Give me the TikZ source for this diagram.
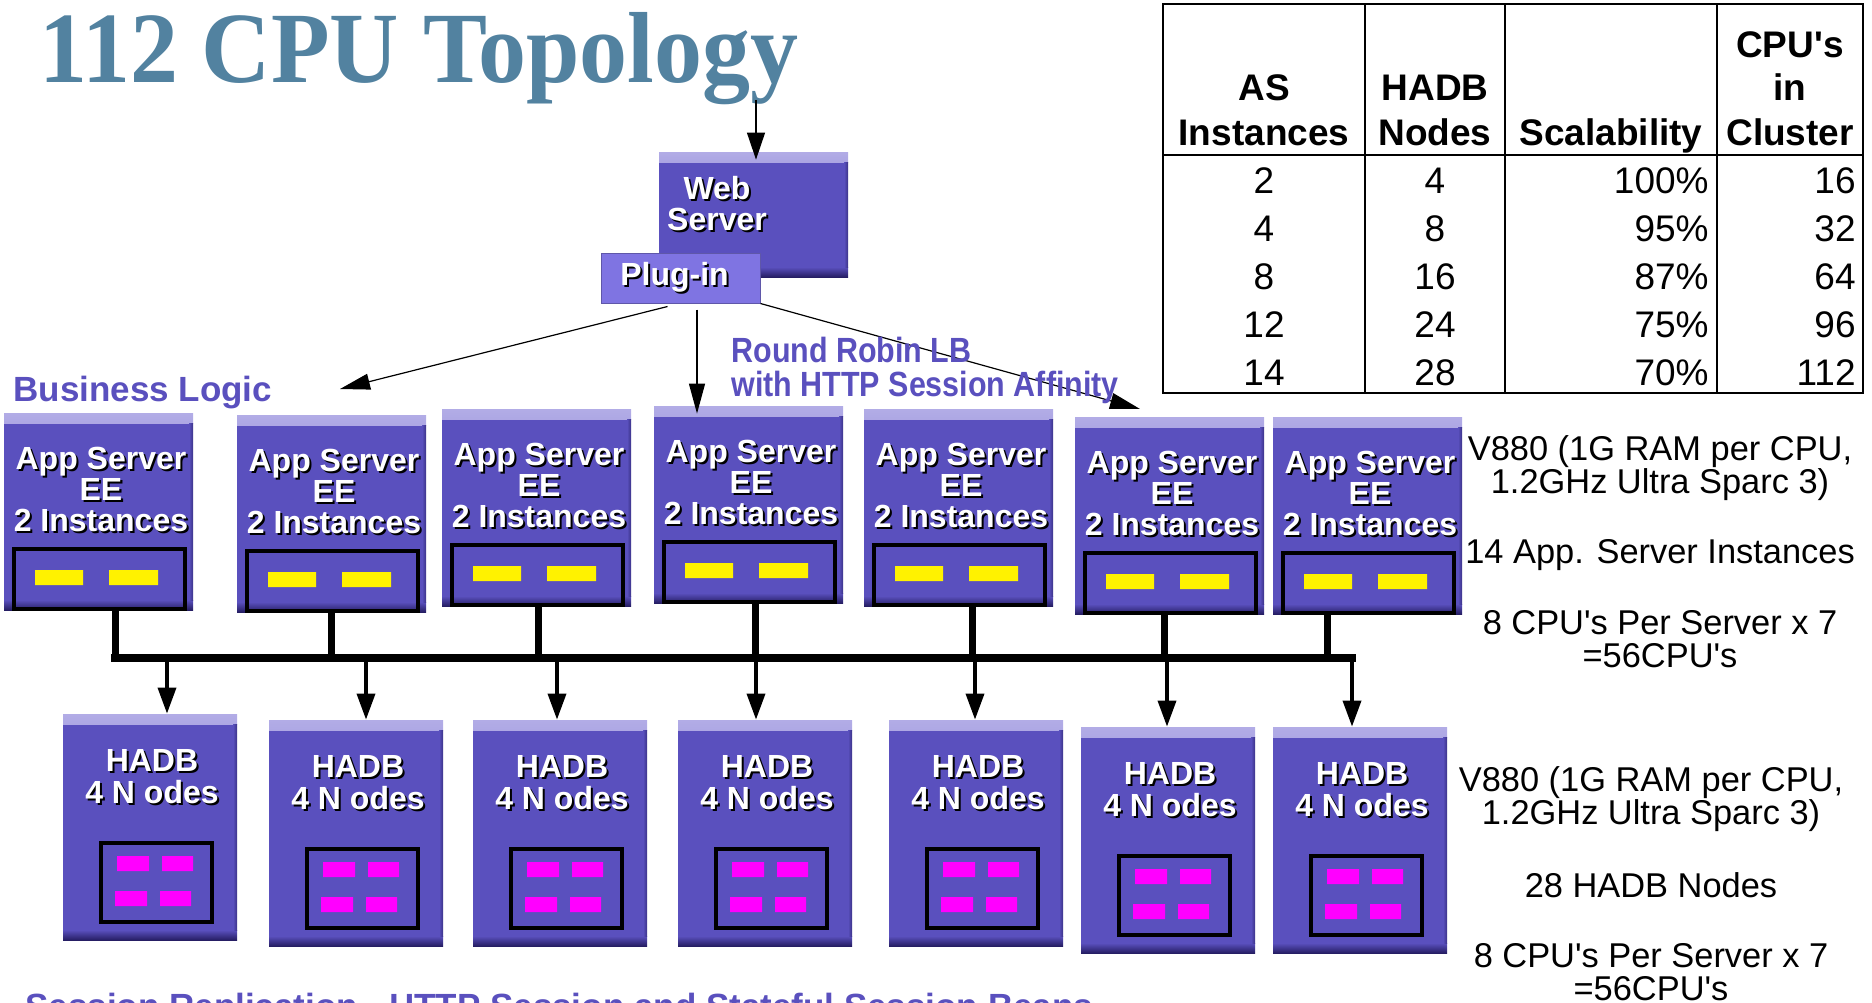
\documentclass[tikz,border=0pt]{standalone}
\usepackage{fontspec}
\newfontfamily\arial{Liberation Sans}
\newfontfamily\arialn[FakeStretch=0.87]{Liberation Sans}
\newfontfamily\timesb[FakeStretch=0.95]{Liberation Serif}
\usetikzlibrary{arrows.meta,calc,positioning}

\definecolor{boxpurple}{RGB}{90,80,190}
\definecolor{boxlight}{RGB}{178,172,230}
\definecolor{boxdark}{RGB}{38,30,100}
\definecolor{plugpurple}{RGB}{127,116,226}
\definecolor{titleblue}{RGB}{82,130,160}
\definecolor{slotmag}{RGB}{255,0,255}

% white label with a dark drop shadow
\newcommand\shtext[1]{\rlap{\kern1pt\raisebox{-1pt}{\color{black}#1}}#1}

\tikzset{
  server/.style={rectangle,fill=boxpurple,inner sep=0pt,
    path picture={
      \fill[top color=boxlight,bottom color=boxpurple]
        (path picture bounding box.north west) rectangle
        ([yshift=-5pt]path picture bounding box.north east);
      \fill[top color=boxpurple,bottom color=boxdark]
        ([yshift=5pt]path picture bounding box.south west) rectangle
        (path picture bounding box.south east);
      \fill[left color=boxpurple,right color=boxdark!60!boxpurple]
        ([xshift=-2pt,yshift=-5pt]path picture bounding box.north east) rectangle
        ([yshift=5pt]path picture bounding box.south east);
    }},
  asbox/.style={server,minimum width=94.5pt,minimum height=98.5pt},
  dbbox/.style={server,minimum width=87pt,minimum height=113pt},
  plugin/.style={rectangle,fill=plugpurple,draw=plugpurple!75!black,line width=0.5pt,
    minimum width=79.5pt,minimum height=25pt,inner sep=0pt,text=white,
    font=\arial\bfseries\fontsize{16}{15.5}\selectfont},
  lbl/.style={inner sep=0pt,align=center,text=white,anchor=base,
    font=\arial\bfseries\fontsize{16}{15.5}\selectfont},
  dblbl/.style={lbl,font=\arial\bfseries\fontsize{16}{16}\selectfont},
  bluelbl/.style={inner sep=0pt,text=boxpurple,anchor=base west,
    font=\arial\bfseries\fontsize{17.5}{17}\selectfont},
  lblabel/.style={bluelbl,align=left,font=\arialn\bfseries\fontsize{17.5}{17}\selectfont},
  note/.style={inner sep=0pt,align=center,anchor=base,
    font=\arial\fontsize{17.2}{16.3}\selectfont},
  th/.style={inner sep=0pt,anchor=base,font=\arial\bfseries\fontsize{18.5}{18}\selectfont},
  td/.style={inner sep=0pt,font=\arial\fontsize{18.5}{18}\selectfont},
  slot/.style={draw=black,line width=1.7pt},
  bus/.style={line width=4pt},
  drop/.style={line width=3.5pt},
  thinarrow/.style={line width=0.6pt,-{Triangle[length=13.5pt,width=9pt]}},
  lbarrow/.style={line width=0.6pt,-{Triangle[length=15pt,width=8pt]}},
  dbarrow/.style={line width=1.8pt,-{Triangle[length=13pt,width=9pt]}},
  tbl/.style={line width=0.6pt}
}

\begin{document}
\begin{tikzpicture}[x=0.5pt,y=-0.5pt]
  \useasboundingbox (0,0) rectangle (1872,1002);
  \clip (0,0) rectangle (1872,1002);

  % title
  \node[inner sep=0pt,anchor=base west,text=titleblue,
    font=\timesb\bfseries\fontsize{50.5}{50}\selectfont] (title) at (39,82) {112 CPU Topology};

  % web tier
  \node[server,minimum width=94.5pt,minimum height=62.5pt] (web) at (753.5,214.5) {};
  \node[lbl] (weblbl) at (717,230) {\shtext{Web}\\\shtext{Server}};
  \node[plugin] (plug) at (680.5,278) {\shtext{Plug-in}\kern6pt};
  \coordinate (feed) at (756,100);
  \draw[thinarrow] (feed) -- ([yshift=-4pt]feed |- web.north);

  % application servers
  \foreach \i/\l/\t/\d in {1/4/413/111,2/237/415/94,3/442/409/96,4/654/406/101,
      5/864/409/108,6/1075/417/89,7/1273/417/54}{
    \node[asbox] (as\i) at (\l+94.5,\t+98.5) {};
    \node[lbl] (aslbl\i) at (\l+97,\t+118) {\shtext{App Server}\\\shtext{EE}\\\shtext{2 Instances}};
    \draw[slot] (\l+10,\t+136) rectangle (\l+181,\t+196);
    \fill[yellow] (\l+31,\t+157) rectangle (\l+79,\t+172)
                  (\l+105,\t+157) rectangle (\l+154,\t+172);
    \coordinate (drop\i) at (\l+\d,\t+196);
  }

  % load balancing from the plug-in
  \coordinate (lb-l) at (340,389);
  \coordinate (lb-r) at (1140,409);
  \coordinate (lb-m) at ([xshift=8.25pt,yshift=-3pt]plug.south);
  \draw[lbarrow] ([xshift=-6.5pt,yshift=-1.5pt]plug.south) -- (lb-l);
  \draw[lbarrow] (lb-m) -- ([yshift=-4pt]as4.north -| lb-m);
  \draw[lbarrow] (plug.south east) -- (lb-r);

  \node[bluelbl] (bizlogic) at (13,401) {Business Logic};
  \node[lblabel] (rrlb) at (731,396) {Round Robin LB\\with HTTP Session Affinity};

  % interconnect
  \coordinate (bus-w) at (111,658);
  \coordinate (bus-e) at (1356,658);
  \draw[bus] (bus-w) -- (bus-e);
  \foreach \i in {1,...,7}
    \draw[drop] (drop\i) -- (drop\i |- bus-w);

  % HADB nodes
  \foreach \i/\l/\t/\dx in {1/63/714/8.5,2/269/720/5,3/473/720/-1.5,4/678/720/-4.5,
      5/889/720/-0.5,6/1081/727/-0.5,7/1273/727/-4}{
    \node[dbbox] (db\i) at (\l+87,\t+113) {};
    \node[dblbl] (dblbl\i) at (\l+89,\t+89) {\shtext{HADB}\\\shtext{4 N odes}};
    \draw[slot] (\l+38,\t+129) rectangle (\l+149,\t+208);
    \fill[slotmag] (\l+54,\t+142) rectangle (\l+86,\t+157)
                   (\l+99,\t+142) rectangle (\l+130,\t+157)
                   (\l+52,\t+177) rectangle (\l+84,\t+192)
                   (\l+97,\t+177) rectangle (\l+128,\t+192);
    \draw[dbarrow] ([xshift=\dx pt]db\i.north |- bus-w) -- ([xshift=\dx pt]db\i.north);
  }

  \node[bluelbl] (repl) at (25,1018) {Session Replication - HTTP Session and Stateful Session Beans};

  % notes on the right
  \node[note] (v880a) at (1660,493) {V880 (1G RAM per CPU,\\1.2GHz Ultra Sparc 3)};
  \node[note] (asinst) at (1660,563) {14 App. Server Instances};
  \node[note] (ascpu) at (1660,667) {8 CPU's Per Server x 7\\=56CPU's};
  \node[note] (v880b) at (1651,824) {V880 (1G RAM per CPU,\\1.2GHz Ultra Sparc 3)};
  \node[note] (dbinst) at (1651,897) {28 HADB Nodes};
  \node[note] (dbcpu) at (1651,1000) {8 CPU's Per Server x 7\\=56CPU's};

  % scalability table
  \draw[tbl] (1163,4) rectangle (1863,393)
    (1163,155) -- (1863,155)
    (1365,4) -- (1365,393) (1505,4) -- (1505,393) (1717,4) -- (1717,393);
  \foreach \x/\y/\s [count=\k] in {1264/100/AS,1264/145/Instances,1435/100/HADB,1435/145/Nodes,
      1611/145/Scalability,1790/57/CPU's,1790/100/in,1790/145/Cluster}
    \node[th] (hd\k) at (\x,\y) {\s};
  \foreach \y/\a/\b/\c/\d [count=\k] in {193/2/4/100/16,241/4/8/95/32,289/8/16/87/64,
      337/12/24/75/96,385/14/28/70/112}{
    \node[td,anchor=base] (as-\k) at (1264,\y) {\a};
    \node[td,anchor=base] (db-\k) at (1435,\y) {\b};
    \node[td,anchor=base east] (sc-\k) at (1709,\y) {\c\%};
    \node[td,anchor=base east] (cpu-\k) at (1856,\y) {\d};
  }
\end{tikzpicture}
\end{document}
